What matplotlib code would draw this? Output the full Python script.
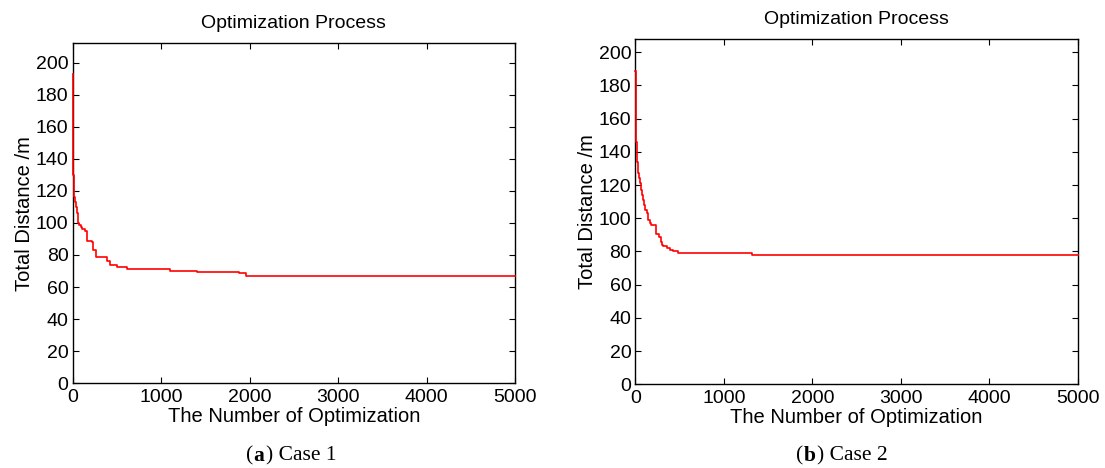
import matplotlib.pyplot as plt

plt.rcParams['font.family'] = ['Liberation Sans', 'DejaVu Sans']

# best total distance per optimization step (value changes only at these iterations)
case1_iter = [0, 2, 4, 8, 14, 20, 26, 35, 45, 55, 63, 75, 90, 110, 138, 158,
              222, 233, 263, 345, 384, 422, 497, 611, 1100, 1400, 1880, 1960,
              5000]
case1_dist = [193, 165, 145, 130, 120, 116, 113, 110, 106, 102, 100, 98.5,
              97.5, 96, 95, 88.5, 88, 83, 79, 78.5, 76, 73.5, 72.5, 71.5, 70,
              69.5, 68.5, 67, 67]

case2_iter = [0, 3, 6, 10, 15, 22, 31, 40, 50, 60, 70, 80, 95, 110, 125, 144,
              160, 171, 230, 264, 284, 300, 314, 352, 389, 427, 483, 1313, 5000]
case2_dist = [189, 171, 160, 146, 140, 134, 127, 124, 121, 117, 114, 111, 108,
              105, 103, 99, 97, 96, 90.5, 89, 86, 84, 83, 82, 81, 80, 79, 78,
              78]

xticks = [0, 1000, 2000, 3000, 4000, 5000]
yticks = [0, 20, 40, 60, 80, 100, 120, 140, 160, 180, 200]

fig = plt.figure(figsize=(11.05, 4.68), dpi=100)
ax1 = fig.add_axes([0.0658, 0.181, 0.4003, 0.7265])
ax2 = fig.add_axes([0.5751, 0.179, 0.4002, 0.7376])


def draw(ax, it, dist, ytop, caption, letter, cap_x):
    # drawn above the spines and unclipped so the first drop at x=0 stays visible
    ax.plot(it, dist, color='red', lw=1.2, drawstyle='steps-post', zorder=3,
            clip_on=False)
    ax.set_xlim(0, 5000)
    ax.set_ylim(0, ytop)
    ax.set_xticks(xticks)
    ax.set_yticks(yticks)
    ax.tick_params(direction='in', length=4, width=0.8, top=True, right=True,
                   labelsize=14)
    ax.tick_params(axis='x', pad=4)
    ax.tick_params(axis='y', pad=3)
    for s in ax.spines.values():
        s.set_linewidth(1.0)
    ax.set_title('Optimization Process', fontsize=14, pad=11)
    ax.set_xlabel('The Number of Optimization', fontsize=14.5, labelpad=1)
    ax.set_ylabel('Total Distance /m', fontsize=14.5, labelpad=1)
    fig.text(cap_x, 0.016, '(', family='Liberation Serif', fontsize=15.5,
             ha='right', va='baseline')
    fig.text(cap_x, 0.016, letter, family='Liberation Serif', fontsize=15.5,
             fontweight='bold', ha='left', va='baseline')
    fig.text(cap_x + 0.012, 0.016, ') ' + caption, family='Liberation Serif',
             fontsize=15.5, ha='left', va='baseline')


draw(ax1, case1_iter, case1_dist, 212, 'Case 1', 'a', 0.229)
draw(ax2, case2_iter, case2_dist, 208, 'Case 2', 'b', 0.727)

fig.savefig('out.png', dpi=100)
